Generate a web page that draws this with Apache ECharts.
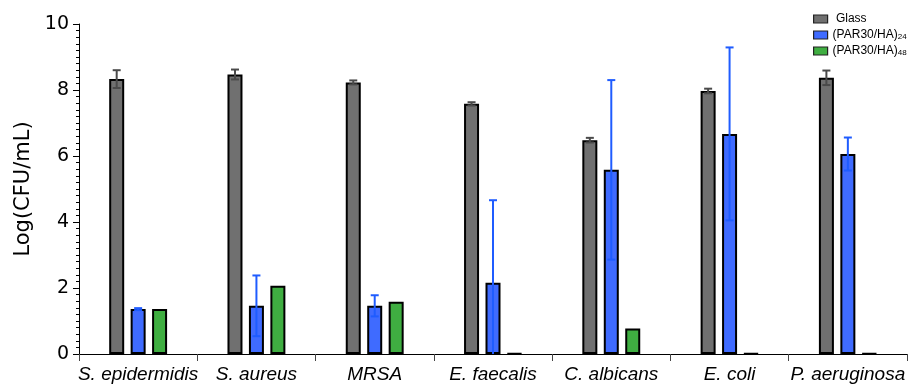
<!DOCTYPE html>
<html>
<head>
<meta charset="utf-8">
<script src="https://cdn.jsdelivr.net/npm/echarts@6/dist/echarts.min.js"></script>
<style>
  html, body { margin: 0; padding: 0; background: #fff; }
  #chart { width: 919px; height: 385px; }
</style>
</head>
<body>
<div id="chart"></div>
<script>
// Organisms on the x axis
const categories = ['S. epidermidis', 'S. aureus', 'MRSA', 'E. faecalis', 'C. albicans', 'E. coli', 'P. aeruginosa'];

// Mean Log(CFU/mL) per surface
const glassValues = [8.33, 8.47, 8.23, 7.58, 6.48, 7.97, 8.37];
const par24Values = [1.36, 1.46, 1.46, 2.16, 5.58, 6.67, 6.06];
const par48Values = [1.36, 2.07, 1.58, 0.02, 0.77, 0.02, 0.02];

// Standard deviations
const glassErrors = [0.27, 0.15, 0.06, 0.05, 0.07, 0.07, 0.22];
const par24Errors = [0.03, 0.92, 0.32, 2.50, 2.72, 2.62, 0.50];
const par48Errors = [0, 0, 0, 0, 0, 0, 0];

// Y axis range and ticks
const yMin = 0;
const yMax = 10;
const yInterval = 2;

const seriesNames = ['Glass', '(PAR30/HA)24', '(PAR30/HA)48'];
const fills = ['#707070', '#3f6bff', '#3fae41'];
const errColors = ['#4a4a4a', '#1f5cff', '#2a8a2c'];
const valueSets = [glassValues, par24Values, par48Values];
const errorSets = [glassErrors, par24Errors, par48Errors];

const BAR_W = 15;
const BAR_GAP = '43%';
const SPACING = BAR_W * 1.43;

function errorSeries(idx) {
  const data = categories.map((c, i) => [i, valueSets[idx][i], errorSets[idx][i]]);
  return {
    type: 'custom',
    name: seriesNames[idx] + ' error',
    z: 5,
    silent: true,
    data: data,
    renderItem: function (params, api) {
      const err = api.value(2);
      if (!err) return null;
      const cat = api.value(0);
      const v = api.value(1);
      const offset = (idx - 1) * SPACING;
      const hiVal = Math.min(v + err, yMax);
      const loVal = Math.max(v - err, yMin);
      const top = api.coord([cat, hiVal]);
      const bot = api.coord([cat, loVal]);
      const x = top[0] + offset;
      const cap = 4;
      const style = { stroke: errColors[idx], lineWidth: 2 };
      const children = [
        { type: 'line', shape: { x1: x, y1: top[1], x2: x, y2: bot[1] }, style: style }
      ];
      if (v + err <= yMax) {
        children.push({ type: 'line', shape: { x1: x - cap, y1: top[1], x2: x + cap, y2: top[1] }, style: style });
      }
      if (v - err >= yMin) {
        children.push({ type: 'line', shape: { x1: x - cap, y1: bot[1], x2: x + cap, y2: bot[1] }, style: style });
      }
      return { type: 'group', children: children };
    }
  };
}

const barSeries = seriesNames.map((name, idx) => ({
  type: 'bar',
  name: name,
  data: valueSets[idx],
  barWidth: BAR_W,
  barGap: BAR_GAP,
  itemStyle: { color: fills[idx], borderColor: '#000', borderWidth: 2 },
  z: 2
}));

const chart = echarts.init(document.getElementById('chart'), null, { renderer: 'canvas' });

chart.setOption({
  animation: false,
  backgroundColor: '#fff',
  grid: { left: 79, right: 12, top: 24, bottom: 31, containLabel: false },
  legend: {
    data: seriesNames,
    orient: 'vertical',
    left: 808,
    top: 8,
    icon: 'rect',
    itemWidth: 14,
    itemHeight: 8,
    itemGap: 3,
    itemStyle: { borderColor: '#222', borderWidth: 1.2 },
    formatter: function (name) {
      const m = name.match(/^(.*?)(\d+)$/);
      if (m) return '{n|' + m[1] + '}{s|' + m[2] + '}';
      return '{n| ' + name + '}';
    },
    textStyle: {
      rich: {
        n: { fontFamily: 'Liberation Sans, Arial, sans-serif', fontSize: 12, color: '#000', lineHeight: 12 },
        s: { fontFamily: 'Liberation Sans, Arial, sans-serif', fontSize: 8, color: '#000', verticalAlign: 'bottom', padding: [5, 0, 0, 0], lineHeight: 12 }
      }
    }
  },
  xAxis: {
    type: 'category',
    data: categories,
    axisLine: { lineStyle: { color: '#000', width: 1 } },
    axisTick: { show: true, alignWithLabel: false, length: 7, lineStyle: { color: '#444' } },
    axisLabel: {
      interval: 0,
      margin: 11,
      fontFamily: 'Liberation Sans, Arial, sans-serif',
      fontSize: 19,
      fontStyle: 'italic',
      color: '#000'
    },
    splitLine: { show: false }
  },
  yAxis: {
    type: 'value',
    min: yMin,
    max: yMax,
    interval: yInterval,
    name: 'Log(CFU/mL)',
    nameLocation: 'middle',
    nameGap: 41,
    nameTextStyle: { fontFamily: 'DejaVu Sans, sans-serif', fontSize: 21, color: '#000' },
    axisLine: { show: true, lineStyle: { color: '#000', width: 1 } },
    axisTick: { show: true, inside: false, length: 6, lineStyle: { color: '#000' } },
    minorTick: { show: true, splitNumber: 10, length: 3, lineStyle: { color: '#000' } },
    axisLabel: {
      margin: 10,
      fontFamily: 'DejaVu Sans, sans-serif',
      fontSize: 19,
      color: '#000'
    },
    splitLine: { show: false }
  },
  series: barSeries.concat([errorSeries(0), errorSeries(1), errorSeries(2)])
});
</script>
</body>
</html>
